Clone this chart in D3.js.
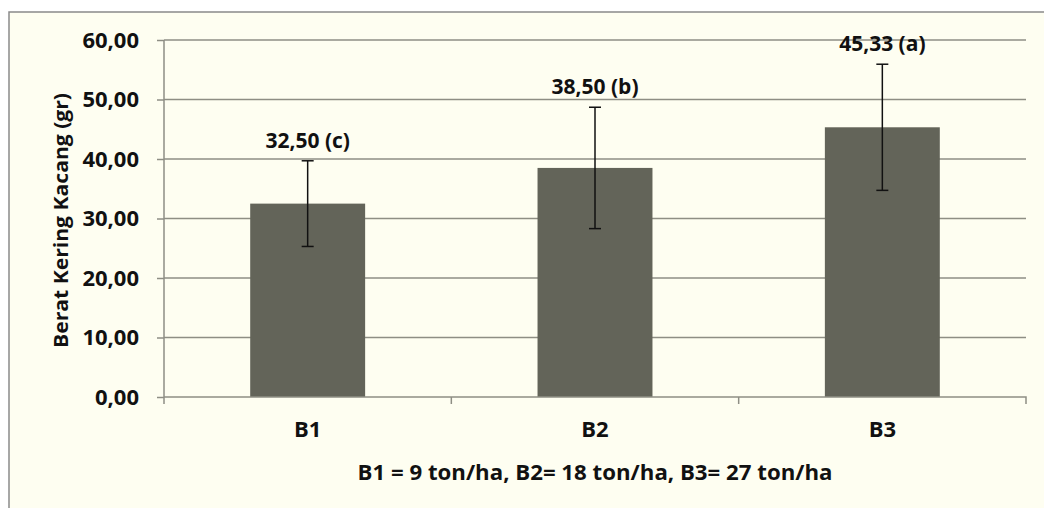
<!DOCTYPE html>
<html>
<head>
<meta charset="utf-8">
<script src="https://cdn.jsdelivr.net/npm/d3@7"></script>
<style>
  body { margin: 0; background: #fff; }
  text { font-family: "Open Sans", sans-serif; font-weight: bold; fill: #111; }
</style>
</head>
<body>
<div id="chart"></div>
<script>
const categories = ["B1", "B2", "B3"];
const means = [32.50, 38.50, 45.33];
const errors = [7.2, 10.2, 10.6];
const notations = ["c", "b", "a"];
const yTicks = [0, 10, 20, 30, 40, 50, 60];

(function berat_kering() {
  const width = 1044,
    height = 508,
    margin = {top: 40, right: 18, bottom: 111, left: 164};

  const svg = d3.select("#chart")
    .append("svg")
    .attr("width", width)
    .attr("height", height);

  // chart area background + border
  svg.append("rect")
    .attr("x", 9).attr("y", 12)
    .attr("width", width).attr("height", height)
    .attr("fill", "#fefef1")
    .attr("stroke", "#8a8a8a")
    .attr("stroke-width", 1.5);

  const fmt = v => d3.format(".2f")(v).replace(".", ",");

  let x = d3.scaleBand(categories, [margin.left, width - margin.right])
    .paddingInner(0.6)
    .paddingOuter(0.3);

  let y = d3.scaleLinear([0, 60], [height - margin.bottom, margin.top]);

  // gridlines
  svg.append("g")
    .selectAll("line")
    .data(yTicks.slice(1))
    .join("line")
    .attr("x1", margin.left)
    .attr("x2", width - margin.right)
    .attr("y1", d => y(d))
    .attr("y2", d => y(d))
    .attr("stroke", "#8e8e84")
    .attr("stroke-width", 1.5);

  // bars
  svg.append("g")
    .selectAll("rect")
    .data(categories)
    .join("rect")
    .attr("x", d => x(d))
    .attr("y", (d, i) => y(means[i]))
    .attr("width", x.bandwidth())
    .attr("height", (d, i) => y(0) - y(means[i]))
    .attr("fill", "#636459");

  // error bars
  const eb = svg.append("g")
    .selectAll("g")
    .data(categories)
    .join("g")
    .attr("stroke", "#111")
    .attr("stroke-width", 1.5);
  const cx = d => x(d) + x.bandwidth() / 2;
  eb.append("line")
    .attr("x1", cx).attr("x2", cx)
    .attr("y1", (d, i) => y(means[i] - errors[i]))
    .attr("y2", (d, i) => y(means[i] + errors[i]));
  eb.append("line")
    .attr("x1", d => cx(d) - 6).attr("x2", d => cx(d) + 6)
    .attr("y1", (d, i) => y(means[i] + errors[i]))
    .attr("y2", (d, i) => y(means[i] + errors[i]));
  eb.append("line")
    .attr("x1", d => cx(d) - 6).attr("x2", d => cx(d) + 6)
    .attr("y1", (d, i) => y(means[i] - errors[i]))
    .attr("y2", (d, i) => y(means[i] - errors[i]));

  // value labels
  svg.append("g")
    .selectAll("text")
    .data(categories)
    .join("text")
    .attr("x", cx)
    .attr("y", (d, i) => y(means[i] + errors[i]) - 13)
    .attr("text-anchor", "middle")
    .style("font-size", "21px")
    .text((d, i) => `${fmt(means[i])} (${notations[i]})`);

  // y axis
  const yAxis = svg.append("g")
    .attr("transform", `translate(${margin.left},0)`)
    .call(d3.axisLeft(y).tickValues(yTicks).tickFormat(fmt).tickSize(7).tickPadding(18));
  yAxis.select(".domain").attr("stroke", "#8e8e84").attr("stroke-width", 1.5)
    .attr("d", `M0,${margin.top}V${y(0) + 7}`);
  yAxis.selectAll(".tick line").attr("stroke", "#8e8e84").attr("stroke-width", 1.5);
  yAxis.selectAll(".tick text").style("font-size", "22px").attr("fill", "#111");

  // x axis
  const xAxis = svg.append("g")
    .attr("transform", `translate(0,${y(0)})`)
    .call(d3.axisBottom(x).tickSize(0).tickPadding(24));
  xAxis.select(".domain").attr("stroke", "#8e8e84").attr("stroke-width", 1.5)
    .attr("d", `M${margin.left},0H${width - margin.right}V7`);
  xAxis.selectAll(".tick text").style("font-size", "22px").attr("fill", "#111");
  xAxis.selectAll(".sep")
    .data(categories.slice(1))
    .join("line")
    .attr("class", "sep")
    .attr("x1", d => x(d) - x.step() * x.paddingInner() / 2)
    .attr("x2", d => x(d) - x.step() * x.paddingInner() / 2)
    .attr("y1", 0).attr("y2", 7)
    .attr("stroke", "#8e8e84").attr("stroke-width", 1.5);

  svg.append("text")
    .attr("x", 595)
    .attr("y", 480)
    .attr("text-anchor", "middle")
    .attr("textLength", 475)
    .attr("lengthAdjust", "spacingAndGlyphs")
    .style("font-size", "21px")
    .text("B1 = 9 ton/ha, B2= 18 ton/ha, B3= 27 ton/ha");

  svg.append("text")
    .attr("transform", `translate(68,${(margin.top + y(0)) / 2 + 2}) rotate(-90)`)
    .attr("text-anchor", "middle")
    .attr("textLength", 255)
    .attr("lengthAdjust", "spacingAndGlyphs")
    .style("font-size", "20px")
    .text("Berat Kering Kacang (gr)");
})();
</script>
</body>
</html>
